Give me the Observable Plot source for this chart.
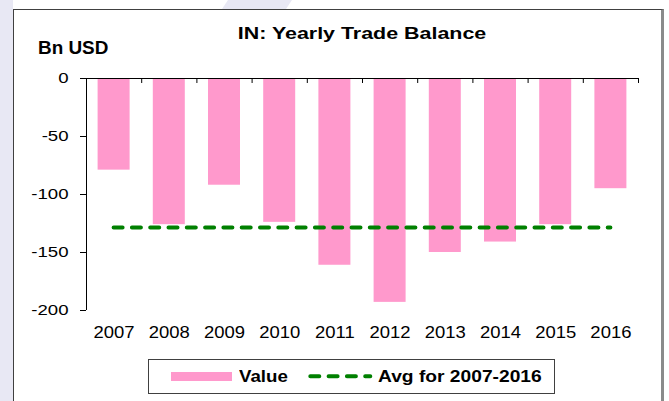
<!DOCTYPE html>
<html>
<head>
<meta charset="utf-8">
<script src="https://cdn.jsdelivr.net/npm/d3@7"></script>
<script src="https://cdn.jsdelivr.net/npm/@observablehq/plot@0.6"></script>
<style>
html,body{margin:0;padding:0;background:#fff;}
#wrap{position:relative;width:669px;height:401px;overflow:hidden;font-family:"Liberation Sans",Arial,sans-serif;color:#000;}
.abs{position:absolute;}
#strip{left:0;top:0;width:13px;height:401px;background:#e8e8f4;}
#wm{left:0;top:0;width:669px;height:9px;background:#e8e8f4;clip-path:polygon(228px 0,292px 0,286px 9px,222px 9px);}
#frame{left:13px;top:9px;width:647px;height:420px;border:1px solid #404040;border-right:3px solid #8a8a8a;background:#fff;}
.t{white-space:nowrap;font-weight:bold;line-height:1;}
#title{left:162.4px;top:24.9px;width:400px;text-align:center;font-size:17px;transform:scaleX(1.26);transform-origin:center;}
#unit{left:38px;top:38.8px;font-size:18px;transform:scaleX(1.05);transform-origin:left;}
#legend{left:148px;top:359px;width:407px;height:35px;box-sizing:border-box;border:1px solid #404040;background:#fff;}
#sw{left:171px;top:372px;width:61px;height:9px;background:#ff99cc;}
#lv{left:239px;top:367.9px;font-size:17px;transform:scaleX(1.1);transform-origin:left;}
#la{left:378px;top:367.9px;font-size:17px;transform:scaleX(1.13);transform-origin:left;}
#ld{left:304px;top:372px;}
</style>
</head>
<body>
<div id="wrap">
  <div id="strip" class="abs"></div>
  <div id="wm" class="abs"></div>
  <div id="frame" class="abs"></div>
  <div id="plot" class="abs" style="left:0;top:0;"></div>
  <div id="title" class="abs t">IN: Yearly Trade Balance</div>
  <div id="unit" class="abs t">Bn USD</div>
  <div id="legend" class="abs"></div>
  <div id="sw" class="abs"></div>
  <div id="lv" class="abs t">Value</div>
  <svg id="ld" class="abs" width="72" height="9"><line x1="6.3" x2="66.3" y1="4.3" y2="4.3" stroke="#008000" stroke-width="4" stroke-dasharray="9 9.3" stroke-linecap="round"/></svg>
  <div id="la" class="abs t">Avg for 2007-2016</div>
</div>
<script>
const years = [2007, 2008, 2009, 2010, 2011, 2012, 2013, 2014, 2015, 2016];
const values = [-79, -126, -92, -124, -161, -193, -150, -141, -126, -95];
const avgValue = -128.5;
const yTicks = [0, -50, -100, -150, -200];

const data = years.map((year, i) => ({year, value: values[i]}));
const bounds = [...years, years[years.length - 1] + 1];

const plot = Plot.plot({
  width: 669,
  height: 401,
  marginLeft: 86,
  marginRight: 31,
  marginTop: 78,
  marginBottom: 91,
  style: {background: "transparent", fontFamily: "'Liberation Sans', Arial, sans-serif", color: "#000", overflow: "visible"},
  x: {domain: [years[0], years[years.length - 1] + 1], axis: null},
  y: {domain: [yTicks[yTicks.length - 1], yTicks[0]], axis: null},
  marks: [
    Plot.rectY(data, {x: "year", y: "value", interval: 1, fill: "#ff99cc", insetLeft: 11.6, insetRight: 11.6}),
    Plot.ruleY([avgValue], {x1: years[0] + 0.5, x2: years[years.length - 1] + 0.5, stroke: "#008000", strokeWidth: 4, strokeDasharray: "9 9.3", strokeLinecap: "round"}),
    Plot.ruleY([0], {stroke: "#000"}),
    Plot.ruleX([years[0]], {stroke: "#000"}),
    Plot.ruleX(bounds, {y1: 0, y2: -4.3, stroke: "#000"}),
    Plot.axisY(yTicks, {tickSize: 6, tickPadding: 12, fontSize: 15.5, tickFormat: d => String(d), label: null}),
    Plot.text(years, {x: d => d + 0.5, frameAnchor: "bottom", lineAnchor: "top", dy: 15.3, text: d => String(d), fontSize: 16.5, fill: "#000"})
  ]
});

function scaleText(t, s) {
  const tr = t.getAttribute("transform");
  if (tr) t.setAttribute("transform", tr + ` scale(${s},1)`);
  else {
    const x = parseFloat(t.getAttribute("x")) || 0;
    t.setAttribute("transform", `translate(${x},0) scale(${s},1) translate(${-x},0)`);
  }
}
plot.querySelectorAll("text").forEach(t => {
  const g = t.closest("g[aria-label]");
  const lab = g ? g.getAttribute("aria-label") : "";
  scaleText(t, lab.includes("y-axis") ? 1.2 : 1.12);
});

document.getElementById("plot").appendChild(plot);
</script>
</body>
</html>
